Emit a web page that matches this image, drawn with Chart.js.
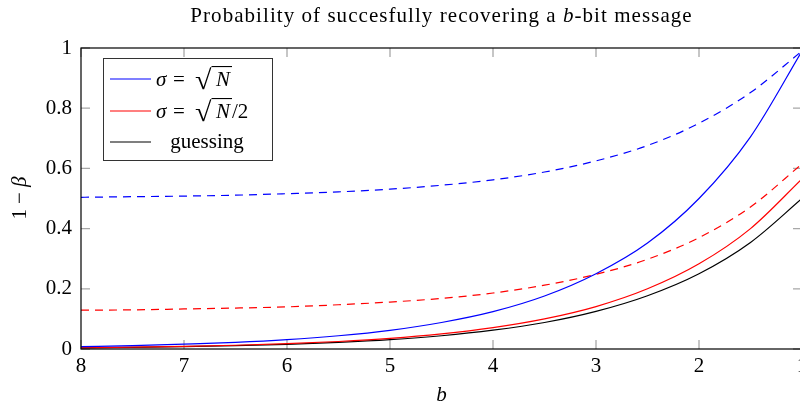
<!DOCTYPE html>
<html><head><meta charset="utf-8">
<script src="https://cdn.jsdelivr.net/npm/chart.js"></script>
<style>html,body{margin:0;padding:0;overflow:hidden;background:#fff}#wrap{width:808px;height:403px}</style>
</head><body><div id="wrap"><canvas id="c" width="808" height="403"></canvas></div>
<script>
// ---- data ----
const bValues    = [8, 7.5, 7, 6.5, 6, 5.5, 5, 4.5, 4, 3.5, 3, 2.5, 2, 1.5, 1];
const blueSolid  = [0.008, 0.011, 0.016, 0.022, 0.031, 0.044, 0.062, 0.088, 0.124, 0.176, 0.25, 0.352, 0.5, 0.705, 0.99];
const blueDashed = [0.504, 0.506, 0.508, 0.511, 0.516, 0.522, 0.531, 0.544, 0.562, 0.588, 0.625, 0.676, 0.75, 0.852, 0.99];
const redSolid   = [0.004, 0.006, 0.009, 0.0125, 0.018, 0.025, 0.035, 0.05, 0.071, 0.1, 0.141, 0.2, 0.283, 0.4, 0.565];
const redDashed  = [0.129, 0.130, 0.133, 0.136, 0.140, 0.147, 0.156, 0.168, 0.186, 0.212, 0.248, 0.298, 0.37, 0.472, 0.615];
const guessing   = [0.004, 0.0055, 0.0078, 0.011, 0.0156, 0.022, 0.031, 0.044, 0.0625, 0.088, 0.125, 0.177, 0.25, 0.354, 0.5];
const xTicks = [8, 7, 6, 5, 4, 3, 2, 1];
const yTicks = [0, 0.2, 0.4, 0.6, 0.8, 1];
const titleParts = ['Probability of succesfully recovering a ', 'b', '-bit message'];
const xTitle = 'b';

const FONT = '"Liberation Serif", "Times New Roman", serif';
const FS = 21;
const BLUE = '#0000ff', RED = '#ff0000', BLACK = '#000000';

const pts = arr => arr.map((v, i) => ({x: bValues[i], y: v}));

function setFont(ctx, s) { ctx.font = (s.it ? 'italic ' : '') + (s.fs || FS) + 'px ' + FONT; }

// segs: [{t, it, fs, gap}]
function drawSegs(ctx, segs, x, y, align, spacing) {
  const ls = spacing || 0;
  if ('letterSpacing' in ctx) ctx.letterSpacing = ls + 'px';
  let total = 0;
  segs.forEach(s => { setFont(ctx, s); s.w = ctx.measureText(s.t).width; total += s.w + (s.gap || 0); });
  let cx = align === 'center' ? x - total / 2 : x;
  ctx.textAlign = 'left';
  segs.forEach(s => {
    cx += (s.gap || 0);
    setFont(ctx, s);
    ctx.fillText(s.t, cx, y);
    cx += s.w;
  });
  if ('letterSpacing' in ctx) ctx.letterSpacing = '0px';
  return total;
}

function drawSigma(ctx, x0, base, half) {
  ctx.textAlign = 'left';
  ctx.font = 'italic ' + FS + 'px ' + FONT; ctx.fillText('\u03c3', x0, base);
  ctx.font = FS + 'px ' + FONT; ctx.fillText('=', x0 + 17, base);
  // radical sign, stretched a little to mimic the TeX radical
  const sx = 1.25, sy = 1.15, rx = x0 + 39;
  ctx.font = '24px ' + FONT;
  const m = ctx.measureText('\u221a');
  ctx.save(); ctx.translate(rx, base + 3); ctx.scale(sx, sy); ctx.fillText('\u221a', 0, 0); ctx.restore();
  const topY = base + 3 - m.actualBoundingBoxAscent * sy;
  const rightX = rx + m.actualBoundingBoxRight * sx;
  ctx.font = 'italic ' + FS + 'px ' + FONT; ctx.fillText('N', x0 + 60, base);
  const nEnd = x0 + 60 + ctx.measureText('N').width + 2;
  ctx.save(); ctx.lineWidth = 1.1; ctx.strokeStyle = '#000';
  ctx.beginPath(); ctx.moveTo(rightX - 1, topY + 0.55); ctx.lineTo(nEnd, topY + 0.55); ctx.stroke();
  ctx.restore();
  if (half) { ctx.font = FS + 'px ' + FONT; ctx.fillText('/2', nEnd, base); }
}

const framePlugin = {
  id: 'frame',
  beforeDatasetsDraw(chart) {
    const {ctx, chartArea: a, scales: {x, y}} = chart;
    ctx.save();
    ctx.strokeStyle = '#a8a8a8'; ctx.lineWidth = 1.3;
    ctx.beginPath();
    xTicks.forEach(v => {
      const px = x.getPixelForValue(v);
      ctx.moveTo(px, a.bottom); ctx.lineTo(px, a.bottom - 9);
      ctx.moveTo(px, a.top); ctx.lineTo(px, a.top + 9);
    });
    yTicks.forEach(v => {
      const py = y.getPixelForValue(v);
      ctx.moveTo(a.left, py); ctx.lineTo(a.left + 9, py);
      ctx.moveTo(a.right, py); ctx.lineTo(a.right - 9, py);
    });
    ctx.stroke();
    ctx.restore();
  },
  afterDraw(chart) {
    const {ctx, chartArea: a} = chart;
    ctx.save();
    ctx.strokeStyle = '#000'; ctx.lineWidth = 1.2;
    ctx.strokeRect(a.left, a.top, a.right - a.left, a.bottom - a.top);
    ctx.fillStyle = '#000';
    ctx.textBaseline = 'alphabetic';
    const cxp = (a.left + a.right) / 2;
    // title
    drawSegs(ctx, [{t: titleParts[0]}, {t: titleParts[1], it: true}, {t: titleParts[2]}], cxp, 22, 'center', 1.05);
    // x title
    drawSegs(ctx, [{t: xTitle, it: true}], cxp, 401, 'center');
    // y title
    ctx.save(); ctx.translate(26, 198); ctx.rotate(-Math.PI / 2);
    drawSegs(ctx, [{t: '1'}, {t: '\u2212', gap: 5}, {t: '\u03b2', it: true, gap: 5}], 0, 0, 'center');
    ctx.restore();
    // legend
    const lx = 103, ly = 58, lw = 169, lh = 102;
    ctx.fillStyle = '#fff'; ctx.fillRect(lx, ly, lw, lh);
    ctx.strokeStyle = '#333'; ctx.lineWidth = 1; ctx.strokeRect(lx + 0.5, ly + 0.5, lw, lh);
    const rows = [{c: BLUE, y: 79}, {c: RED, y: 111}, {c: BLACK, y: 142}];
    rows.forEach(r => {
      ctx.strokeStyle = r.c; ctx.lineWidth = 1.2;
      ctx.beginPath(); ctx.moveTo(110, r.y); ctx.lineTo(151, r.y); ctx.stroke();
    });
    ctx.fillStyle = '#000';
    drawSigma(ctx, 156, 86, false);
    drawSigma(ctx, 156, 118, true);
    drawSegs(ctx, [{t: 'guessing'}], 207, 148, 'center');
    ctx.restore();
  }
};

const common = {fill: false, pointRadius: 0, borderWidth: 1.2, cubicInterpolationMode: 'monotone'};
new Chart(document.getElementById('c'), {
  type: 'line',
  data: {
    datasets: [
      {...common, label: 'sigma=sqrtN', data: pts(blueSolid), borderColor: BLUE},
      {...common, label: 'sigma=sqrtN dashed', data: pts(blueDashed), borderColor: BLUE, borderDash: [8, 6]},
      {...common, label: 'sigma=sqrtN/2', data: pts(redSolid), borderColor: RED},
      {...common, label: 'sigma=sqrtN/2 dashed', data: pts(redDashed), borderColor: RED, borderDash: [8, 6]},
      {...common, label: 'guessing', data: pts(guessing), borderColor: BLACK}
    ]
  },
  options: {
    responsive: false,
    animation: false,
    devicePixelRatio: 1,
    layout: {padding: {top: 48, right: 6, left: 0, bottom: 0}},
    plugins: {legend: {display: false}, title: {display: false}, tooltip: {enabled: false}},
    scales: {
      x: {
        type: 'linear', reverse: true, min: 1, max: 8,
        afterFit: s => { s.height = 54; s.paddingLeft = 0; s.paddingRight = 0; },
        afterBuildTicks: s => { s.ticks = xTicks.map(v => ({value: v})); },
        grid: {display: false, drawTicks: false},
        border: {display: false},
        ticks: {color: '#000', padding: 5, maxRotation: 0, autoSkip: false, font: {family: FONT, size: FS}, callback: v => String(v)}
      },
      y: {
        type: 'linear', min: 0, max: 1,
        afterFit: s => { s.width = 81; s.paddingTop = 0; s.paddingBottom = 0; },
        afterBuildTicks: s => { s.ticks = yTicks.map(v => ({value: v})); },
        grid: {display: false, drawTicks: false},
        border: {display: false},
        ticks: {color: '#000', padding: 9, font: {family: FONT, size: FS}, callback: v => String(v)}
      }
    }
  },
  plugins: [framePlugin]
});
</script></body></html>
